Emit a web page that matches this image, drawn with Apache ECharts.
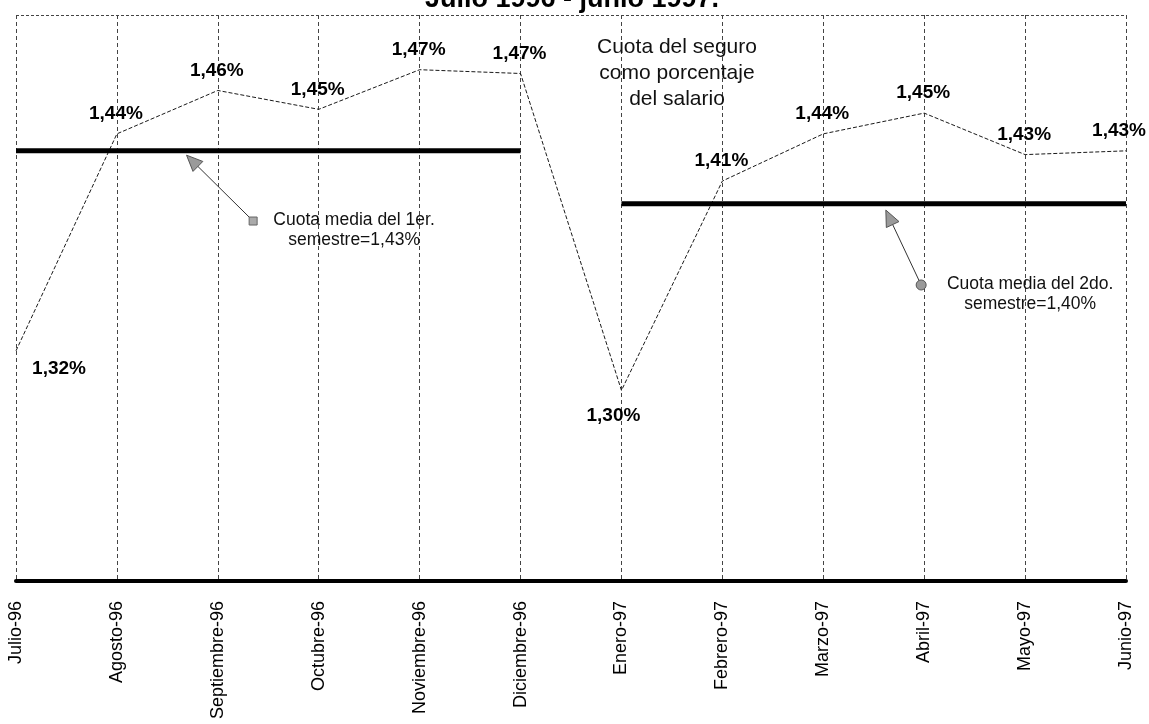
<!DOCTYPE html>
<html>
<head>
<meta charset="utf-8">
<title>Cuota del seguro como porcentaje del salario</title>
<script src="https://cdn.jsdelivr.net/npm/echarts@6/dist/echarts.min.js"></script>
<style>
  html, body { margin: 0; padding: 0; background: #fff; }
  #chart { width: 1149px; height: 724px; }
</style>
</head>
<body>
<div id="chart"></div>
<script>
// Months of the period July 1996 - June 1997
const months = ['Julio-96', 'Agosto-96', 'Septiembre-96', 'Octubre-96', 'Noviembre-96', 'Diciembre-96',
                'Enero-97', 'Febrero-97', 'Marzo-97', 'Abril-97', 'Mayo-97', 'Junio-97'];
// Insurance contribution as a percentage of salary
const cuota = [1.322, 1.437, 1.460, 1.450, 1.471, 1.469, 1.301, 1.412, 1.437, 1.448, 1.426, 1.428];
// Half-year averages
const mediaSemestre1 = 1.428;
const mediaSemestre2 = 1.400;

const FONT = '"Liberation Sans", Arial, Helvetica, sans-serif';
const fmt = v => v.toFixed(2).replace('.', ',') + '%';

// Label placement for each point (first July and January sit below their points)
const labelPlacement = months.map((m, i) => {
  if (i === 0) return { show: true, position: 'bottom', distance: 8, offset: [43, 0] };
  if (i === 6) return { show: true, position: 'bottom', distance: 15, offset: [-8, 0] };
  if (i === months.length - 1) return { show: true, position: 'top', distance: 10, offset: [-7, 0] };
  return { show: true, position: 'top', distance: 10, offset: [-1, 0] };
});

const serieCuota = cuota.map((v, i) => ({ value: v, label: labelPlacement[i] }));
const serieMedia1 = months.map((m, i) => (i < 6 ? mediaSemestre1 : null));
const serieMedia2 = months.map((m, i) => (i >= 6 ? mediaSemestre2 : null));

const chart = echarts.init(document.getElementById('chart'), null, { renderer: 'canvas' });

chart.setOption({
  animation: false,
  backgroundColor: '#ffffff',
  grid: { left: 16, right: 23, top: 15, bottom: 143, containLabel: false },
  xAxis: {
    type: 'category',
    data: months,
    boundaryGap: false,
    axisLine: { show: true, lineStyle: { color: '#000', width: 4 } },
    axisTick: { show: false },
    axisLabel: {
      rotate: 90, margin: 20, interval: 0,
      fontFamily: FONT, fontSize: 18, color: '#000'
    },
    splitLine: { show: true, lineStyle: { color: '#444', width: 1, type: [4, 3] } }
  },
  yAxis: {
    type: 'value',
    min: 1.2, max: 1.5, interval: 0.3,
    axisLine: { show: false },
    axisTick: { show: false },
    axisLabel: { show: false },
    splitLine: { show: true, lineStyle: { color: '#444', width: 1, type: [3, 2] } }
  },
  series: [
    {
      name: 'Cuota',
      type: 'line',
      data: serieCuota,
      symbol: 'circle',
      showSymbol: true,
      symbolSize: 1,
      itemStyle: { color: 'rgba(0,0,0,0)' },
      lineStyle: { color: '#1a1a1a', width: 1, type: [4, 2] },
      label: {
        show: true,
        fontFamily: FONT, fontSize: 19, fontWeight: 'bold', color: '#000',
        formatter: p => fmt(cuota[p.dataIndex])
      },
      z: 3
    },
    {
      name: 'Media 1er semestre',
      type: 'line',
      data: serieMedia1,
      symbol: 'none',
      lineStyle: { color: '#000', width: 5 },
      z: 4
    },
    {
      name: 'Media 2do semestre',
      type: 'line',
      data: serieMedia2,
      symbol: 'none',
      lineStyle: { color: '#000', width: 5 },
      z: 4
    }
  ]
});

// Convert a (fractional category index, value) pair to pixels
function px(idx, val) {
  const x0 = chart.convertToPixel({ xAxisIndex: 0 }, 0);
  const x1 = chart.convertToPixel({ xAxisIndex: 0 }, 1);
  const y = chart.convertToPixel({ yAxisIndex: 0 }, val);
  return [x0 + idx * (x1 - x0), y];
}

// Arrow from a small marker to a point just under the average line
function arrow(from, to, markerShape) {
  const dx = to[0] - from[0], dy = to[1] - from[1];
  const len = Math.sqrt(dx * dx + dy * dy);
  const ux = dx / len, uy = dy / len;
  const hl = 16, hw = 7;
  const bx = to[0] - ux * hl, by = to[1] - uy * hl;
  const els = [
    { type: 'line', shape: { x1: from[0], y1: from[1], x2: bx, y2: by },
      style: { stroke: '#333', lineWidth: 1 }, z: 10 },
    { type: 'polygon', shape: { points: [to, [bx - uy * hw, by + ux * hw], [bx + uy * hw, by - ux * hw]] },
      style: { fill: '#9a9a9a', stroke: '#555', lineWidth: 1 }, z: 10 }
  ];
  if (markerShape === 'rect') {
    els.push({ type: 'rect', shape: { x: from[0] - 4, y: from[1] - 4, width: 8, height: 8 },
      style: { fill: '#aaa', stroke: '#666', lineWidth: 1 }, z: 10 });
  } else {
    els.push({ type: 'circle', shape: { cx: from[0], cy: from[1], r: 5 },
      style: { fill: '#999', stroke: '#555', lineWidth: 1 }, z: 10 });
  }
  return els;
}

const annot = [];
annot.push(...arrow(px(2.35, 1.3908), px(1.69, 1.4257), 'rect'));
annot.push(...arrow(px(8.97, 1.3569), px(8.62, 1.3966), 'circle'));

const t1 = px(3.35, 1.3908);
const t2 = px(10.05, 1.3569);

annot.push({
  type: 'text', x: t1[0], y: t1[1] - 11, z: 10,
  style: {
    text: 'Cuota media del 1er.\nsemestre=' + fmt(mediaSemestre1),
    fontFamily: FONT, fontSize: 17.5, lineHeight: 20, fill: '#111',
    textAlign: 'center', textVerticalAlign: 'top'
  }
});
annot.push({
  type: 'text', x: t2[0], y: t2[1] - 11, z: 10,
  style: {
    text: 'Cuota media del 2do.\nsemestre=' + fmt(mediaSemestre2),
    fontFamily: FONT, fontSize: 17.5, lineHeight: 20, fill: '#111',
    textAlign: 'center', textVerticalAlign: 'top'
  }
});
// Series caption
annot.push({
  type: 'text', x: 677, y: 34, z: 10,
  style: {
    text: 'Cuota del seguro\ncomo porcentaje\ndel salario',
    fontFamily: FONT, fontSize: 21, lineHeight: 26, fill: '#111',
    textAlign: 'center', textVerticalAlign: 'top'
  }
});
// Title (runs off the top edge of the page)
annot.push({
  type: 'text', x: 572, y: -14, z: 10,
  style: {
    text: 'Julio 1996 - junio 1997.',
    fontFamily: FONT, fontSize: 27, fontWeight: 'bold', fill: '#000',
    textAlign: 'center', textVerticalAlign: 'top'
  }
});

chart.setOption({ graphic: annot });
</script>
</body>
</html>
